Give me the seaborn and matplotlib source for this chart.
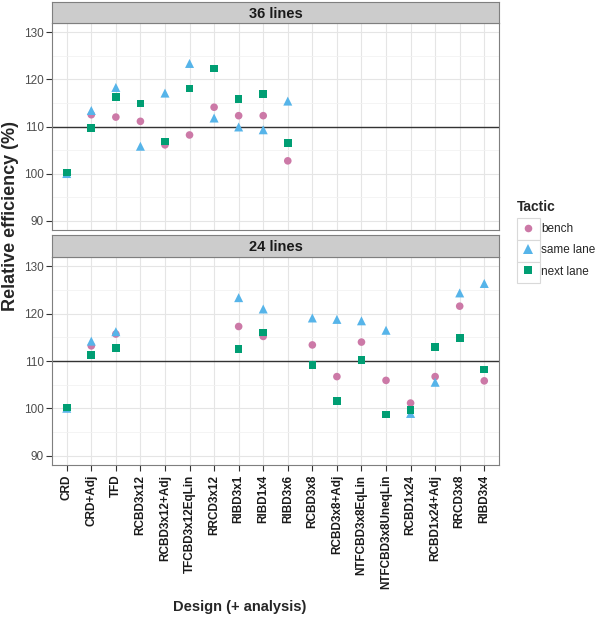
import numpy as np
import pandas as pd
import matplotlib
matplotlib.use("Agg")
import matplotlib.pyplot as plt
from matplotlib.patches import Rectangle
from matplotlib.ticker import MultipleLocator
import seaborn as sns

designs = [
    "CRD", "CRD+Adj", "TFD", "RCBD3x12", "RCBD3x12+Adj", "TFCBD3x12EqLin",
    "RRCD3x12", "RIBD3x1", "RIBD1x4", "RIBD3x6", "RCBD3x8", "RCBD3x8+Adj",
    "NTFCBD3x8EqLin", "NTFCBD3x8UneqLin", "RCBD1x24", "RCBD1x24+Adj",
    "RRCD3x8", "RIBD3x4",
]
tactics = ["bench", "same lane", "next lane"]
panels = ["36 lines", "24 lines"]
nan = np.nan

# 36 lines
bench_36 = [100.0, 112.5, 112.0, 111.1, 106.1, 108.2, 114.1, 112.3, 112.3, 102.7,
            nan, nan, nan, nan, nan, nan, nan, nan]
same_36 = [100.0, 113.4, 118.3, 105.8, 117.1, 123.4, 111.8, 109.9, 109.3, 115.4,
           nan, nan, nan, nan, nan, nan, nan, nan]
next_36 = [100.2, 109.7, 116.3, 114.9, 106.8, 118.1, 122.3, 115.9, 116.9, 106.5,
           nan, nan, nan, nan, nan, nan, nan, nan]

# 24 lines
bench_24 = [100.0, 113.2, 115.7, nan, nan, nan, nan, 117.3, 115.2, nan,
            113.4, 106.7, 114.0, 105.9, 101.1, 106.7, 121.6, 105.8]
same_24 = [100.0, 114.2, 116.2, nan, nan, nan, nan, 123.4, 121.0, nan,
           119.1, 118.8, 118.5, 116.5, 98.9, 105.5, 124.4, 126.4]
next_24 = [100.2, 111.3, 112.8, nan, nan, nan, nan, 112.5, 116.0, nan,
           109.2, 101.6, 110.2, 98.7, 99.6, 112.9, 114.9, 108.2]

series = {
    "36 lines": {"bench": bench_36, "same lane": same_36, "next lane": next_36},
    "24 lines": {"bench": bench_24, "same lane": same_24, "next lane": next_24},
}

rows = []
for panel in panels:
    for tactic in tactics:
        for d, v in zip(designs, series[panel][tactic]):
            if not np.isnan(v):
                rows.append({"Panel": panel, "Design": d, "Tactic": tactic, "Efficiency": v})
df = pd.DataFrame(rows)
df["pos"] = df["Design"].map({d: i for i, d in enumerate(designs)})

palette = {"bench": "#CC79A7", "same lane": "#56B4E9", "next lane": "#009E73"}
markers = {"bench": "o", "same lane": "^", "next lane": "s"}
sizes = {"bench": 30, "same lane": 42, "next lane": 30}

sns.set_style("white")
plt.rcParams["font.family"] = ["Liberation Sans", "DejaVu Sans"]

fig = plt.figure(figsize=(6.0, 6.18), dpi=100)

W, H = 600, 618
left, right = 52 / W, 499 / W
boxes = [(23, 230, 2), (257, 465, 235)]  # panel top, panel bottom, strip top (px)

for i, (panel, (ptop, pbot, stop)) in enumerate(zip(panels, boxes)):
    ax = fig.add_axes([left, 1 - pbot / H, right - left, (pbot - ptop) / H])
    sax = fig.add_axes([left, 1 - ptop / H, right - left, (ptop - stop) / H])
    sax.set_facecolor("#CCCCCC")
    sax.set_xticks([])
    sax.set_yticks([])
    for sp in sax.spines.values():
        sp.set_color("#7F7F7F")
        sp.set_linewidth(0.8)
    sax.text(0.5, 0.45, panel, ha="center", va="center", fontsize=10.5,
             fontweight="bold", color="#1A1A1A", transform=sax.transAxes)

    sub = df[df["Panel"] == panel]
    ax.axhline(110, color="#333333", lw=1.0, zorder=2)
    sns.scatterplot(
        data=sub, x="pos", y="Efficiency", hue="Tactic", style="Tactic",
        size="Tactic", sizes=sizes, size_order=tactics,
        hue_order=tactics, style_order=tactics, palette=palette, markers=markers,
        linewidth=0, alpha=1, legend=(i == 0), ax=ax, zorder=3,
    )
    ax.set_xlim(-0.6, len(designs) - 0.4)
    ax.set_ylim(88, 132)
    ax.set_xticks(range(len(designs)))
    ax.yaxis.set_major_locator(MultipleLocator(10))
    ax.yaxis.set_minor_locator(MultipleLocator(5))
    ax.grid(which="major", color="#E5E5E5", lw=0.8, zorder=0)
    ax.grid(which="minor", axis="y", color="#F2F2F2", lw=0.6, zorder=0)
    ax.set_axisbelow(True)
    for sp in ax.spines.values():
        sp.set_color("#7F7F7F")
        sp.set_linewidth(0.8)
    ax.tick_params(axis="y", which="major", length=4, color="#333333",
                   labelsize=8.5, labelcolor="#4D4D4D", left=True, pad=2)
    ax.tick_params(axis="y", which="minor", length=0)
    ax.set_xlabel("")
    ax.set_ylabel("")
    if i == 0:
        ax.tick_params(axis="x", length=0, labelbottom=False)
        handles, labels = ax.get_legend_handles_labels()
        ax.get_legend().remove()
    else:
        ax.set_xticklabels(designs, rotation=90, fontweight="bold", fontsize=8.5,
                           color="#1A1A1A")
        ax.tick_params(axis="x", length=4, color="#333333", bottom=True, pad=3)

# legend key boxes
for k in range(3):
    fig.patches.append(Rectangle((517 / W, 1 - (240 + 21.7 * k) / H), 23 / W, 21.7 / H,
                                 transform=fig.transFigure, facecolor="white",
                                 edgecolor="#D9D9D9", lw=0.8, zorder=0))

leg = fig.legend(
    handles, labels, title="Tactic", loc="upper left",
    bbox_to_anchor=(517 / W, 1 - 200 / H), frameon=False, fontsize=8.5,
    title_fontproperties={"weight": "bold", "size": 10},
    handlelength=1.9, handletextpad=0.15, labelspacing=0.78,
    borderaxespad=0, borderpad=0,
)
leg._legend_box.align = "left"

fig.text(11 / W, 1 - 216 / H, "Relative efficiency (%)", rotation=90,
         ha="center", va="center", fontsize=13, fontweight="bold")
fig.text(240 / W, 1 - 607 / H, "Design (+ analysis)", ha="center", va="center",
         fontsize=10.5, fontweight="bold")

fig.savefig("out.png", dpi=100)
